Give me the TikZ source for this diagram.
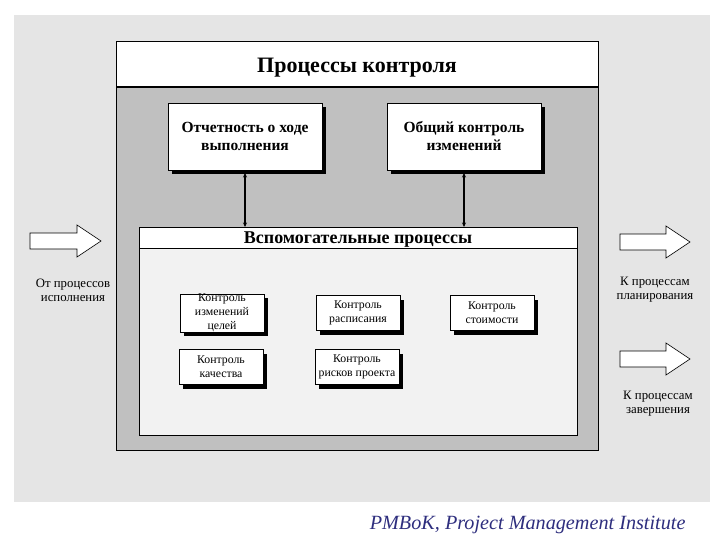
\documentclass[tikz,border=0pt]{standalone}
\usepackage{fontspec}
\setmainfont{Liberation Serif}
\usetikzlibrary{shadows,arrows.meta}
\definecolor{pagebg}{HTML}{E5E5E5}
\definecolor{maingray}{HTML}{C0C0C0}
\definecolor{innergray}{HTML}{F2F2F2}
\definecolor{footblue}{HTML}{2E2E7E}
\tikzset{
  shbox/.style={draw=black, fill=white, line width=0.8pt, align=center,
    drop shadow={shadow xshift=4pt, shadow yshift=-4pt, fill=black, opacity=1}},
  topbox/.style={shbox, minimum width=154pt, minimum height=67pt, font=\fontsize{15.5}{18}\selectfont\bfseries},
  smallbox/.style={shbox, minimum width=84pt, minimum height=35pt, inner sep=0pt, font=\fontsize{11.8}{14}\selectfont},
  sidetext/.style={align=center, font=\fontsize{12.8}{14}\selectfont},
  bigarrow/.style={draw=black, fill=white, line width=0.6pt},
  link/.style={line width=1.2pt, {Stealth[length=4.5pt,width=4pt]}-{Stealth[length=4.5pt,width=4pt]}}
}
\begin{document}
\begin{tikzpicture}[x=1pt,y=-1pt]
\useasboundingbox (0,0) rectangle (720,540);
\fill[white] (0,0) rectangle (720,540);
\fill[pagebg] (14,15) rectangle (710,502);
% main box
\draw[fill=maingray, line width=0.8pt] (116,41) rectangle (598,450);
\draw[fill=white, line width=0.8pt] (116,41) rectangle (598,87);
\draw[line width=2pt] (116,87) -- (598,87);
\node[font=\fontsize{22}{24}\selectfont\bfseries] (title) at (357,68) {Процессы контроля};
% top boxes
\node[topbox] (rep) at (245,136.5) {Отчетность о ходе\\выполнения};
\node[topbox] (chg) at (464,136.5) {Общий контроль\\изменений};
% inner box
\draw[fill=innergray, line width=0.8pt] (139,227) rectangle (577,435);
\draw[fill=white, line width=0.8pt] (139,227) rectangle (577,248);
\node[font=\fontsize{18}{20}\selectfont\bfseries] (aux) at (358,239.5) {Вспомогательные процессы};
\coordinate (a1) at (245,227);
\coordinate (a2) at (464,227);
\draw[link] (rep.south |- 0,173) -- (a1);
\draw[link] (chg.south |- 0,173) -- (a2);
% small boxes
\node[smallbox] (s1) at (222,313) {Контроль\\изменений\\целей};
\node[smallbox] (s2) at (358,313) {Контроль\\расписания};
\node[smallbox] (s3) at (492,313) {Контроль\\стоимости};
\node[smallbox] (s4) at (221,367) {Контроль\\качества};
\node[smallbox] (s5) at (357,367) {Контроль\\рисков проекта};
% side arrows
\draw[bigarrow] (30,233) -- (77,233) -- (77,225) -- (101,241) -- (77,257) -- (77,249) -- (30,249) -- cycle;
\node[sidetext] (from) at (73,290) {От процессов\\исполнения};
\draw[bigarrow] (620,234) -- (666,234) -- (666,226) -- (690,242) -- (666,258) -- (666,250) -- (620,250) -- cycle;
\node[sidetext] (plan) at (655,290) {К процессам\\планирования};
\draw[bigarrow] (620,351) -- (666,351) -- (666,343) -- (690,359) -- (666,375) -- (666,367) -- (620,367) -- cycle;
\node[sidetext] (fin) at (658,404) {К процессам\\завершения};
% footer
\node[font=\fontsize{20.2}{22}\selectfont\itshape, text=footblue, anchor=east] (foot) at (689,525) {PMBoK, Project Management Institute};
\end{tikzpicture}
\end{document}
